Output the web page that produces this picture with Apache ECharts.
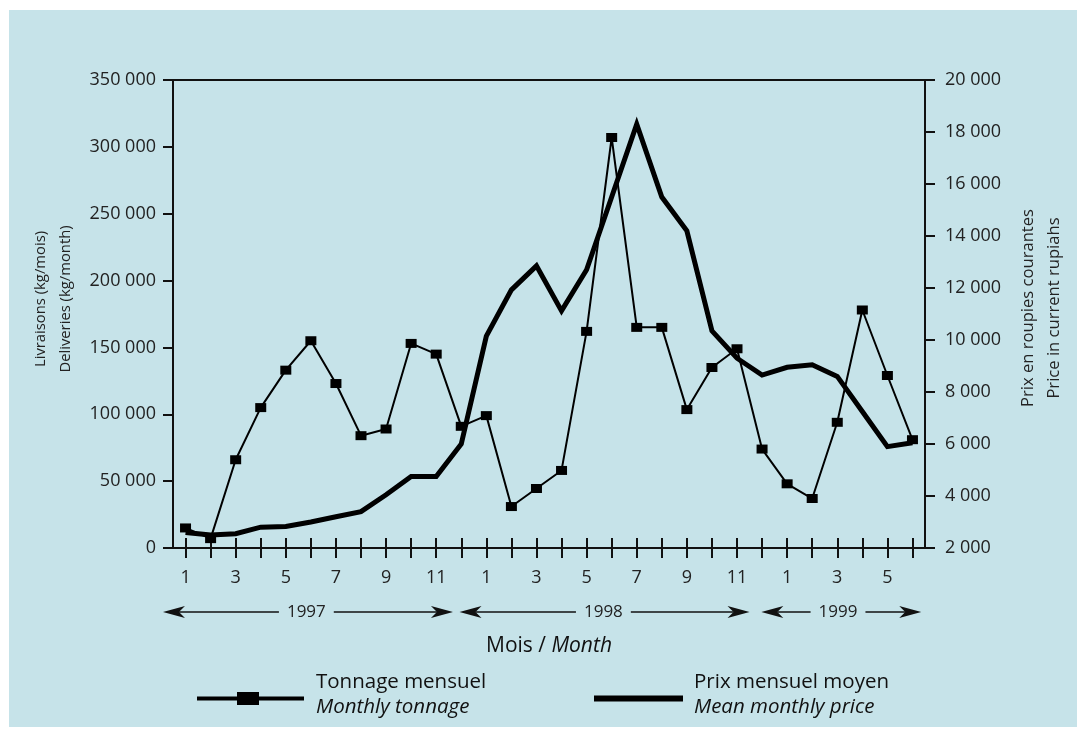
<!DOCTYPE html>
<html>
<head>
<meta charset="utf-8">
<title>Livraisons et prix mensuels 1997-1999</title>
<script src="https://cdn.jsdelivr.net/npm/echarts@6/dist/echarts.min.js"></script>
<style>
  html, body { margin: 0; padding: 0; background: #ffffff; }
  #panel { position: absolute; left: 9px; top: 10px; width: 1068px; height: 717px; background: #c6e3e9; }
  #chart { position: absolute; left: 0; top: 0; width: 1086px; height: 736px; }
</style>
</head>
<body>
<div id="panel"></div>
<div id="chart"></div>
<script>
// Months Jan 1997 .. Jun 1999
const months = ['1','2','3','4','5','6','7','8','9','10','11','12',
                '1','2','3','4','5','6','7','8','9','10','11','12',
                '1','2','3','4','5','6'];
const years = ['1997', '1998', '1999'];

// Monthly deliveries, kg/month (left axis)
const tonnage = [15000, 7000, 66000, 105000, 133000, 155000, 123000, 84000, 89000, 153000, 145000, 91000,
                 99000, 31000, 44500, 58000, 162000, 307000, 165000, 165000, 103500, 135000, 149000, 74000,
                 48000, 37000, 94000, 178000, 129000, 81000];

// Mean monthly price, current rupiahs (right axis)
const price = [2600, 2500, 2550, 2800, 2830, 3000, 3200, 3400, 4050, 4750, 4750, 6000,
               10150, 11930, 12850, 11120, 12700, 15500, 18300, 15500, 14200, 10350, 9300, 8650,
               8950, 9050, 8600, 7250, 5900, 6050];

// Axis tick values
const leftTicks = [0, 50000, 100000, 150000, 200000, 250000, 300000, 350000];
const rightTicks = [2000, 4000, 6000, 8000, 10000, 12000, 14000, 16000, 18000, 20000];

// Legend captions (French / English)
const captions = {
  'Tonnage mensuel': 'Monthly tonnage',
  'Prix mensuel moyen': 'Mean monthly price'
};

// Year arrows along the month axis, in month-index units: [start, end, label centre]
const yearSpan = [[-0.9, 10.67, 4.82], [10.93, 22.5, 16.67], [22.97, 29.35, 26.03]];

const FONT = '"Open Sans", "DejaVu Sans", sans-serif';
const INK = '#111111';
const TEXT = '#222222';
const fmt = v => String(v).replace(/\B(?=(\d{3})+(?!\d))/g, ' ');
const axisLine = { show: true, onZero: false, lineStyle: { color: INK, width: 2 } };

const chart = echarts.init(document.getElementById('chart'), null, { renderer: 'canvas' });

const legendRich = {
  a: { fontFamily: FONT, fontSize: 20.5, color: INK, lineHeight: 25 },
  b: { fontFamily: FONT, fontSize: 20.5, color: INK, lineHeight: 25, fontStyle: 'italic' }
};
const legendFormatter = name => '{a|' + name + '}\n{b|' + captions[name] + '}';

const option = {
  animation: false,
  backgroundColor: 'transparent',
  textStyle: { fontFamily: FONT },
  grid: { left: 173, right: 161, top: 80, bottom: 188 },
  legend: [
    {
      data: [{ name: 'Tonnage mensuel', icon: 'path://M0,4.5H40V0H62V4.5H107V8.5H62V13H40V8.5H0Z' }],
      left: 197, top: 672, padding: 0,
      itemWidth: 107, itemHeight: 13,
      selectedMode: false,
      formatter: legendFormatter,
      textStyle: { rich: legendRich, padding: [0, 0, 7, 7] }
    },
    {
      data: [{ name: 'Prix mensuel moyen', icon: 'rect' }],
      left: 594, top: 672, padding: 0,
      itemWidth: 89, itemHeight: 6,
      selectedMode: false,
      formatter: legendFormatter,
      textStyle: { rich: legendRich, padding: [0, 0, 7, 6] }
    }
  ],
  xAxis: [
    {
      type: 'category', data: months, position: 'bottom', boundaryGap: true,
      axisLine: axisLine,
      axisTick: { show: true, interval: 0, alignWithLabel: true, length: 10, lineStyle: { color: INK, width: 2 } },
      axisLabel: { interval: 1, margin: 21, fontSize: 18, color: TEXT, fontFamily: FONT },
      splitLine: { show: false },
      name: '{a|Mois / }{b|Month}', nameLocation: 'middle', nameGap: 88,
      nameTextStyle: {
        rich: {
          a: { fontFamily: FONT, fontSize: 21, color: INK },
          b: { fontFamily: FONT, fontSize: 21, color: INK, fontStyle: 'italic' }
        }
      }
    },
    {
      type: 'category', data: months, position: 'bottom', boundaryGap: true,
      axisLine: { show: false, onZero: false },
      axisTick: { show: true, inside: true, interval: 0, alignWithLabel: true, length: 10, lineStyle: { color: INK, width: 2 } },
      axisLabel: { show: false },
      splitLine: { show: false }
    },
    {
      type: 'category', data: months, position: 'top', boundaryGap: true,
      axisLine: axisLine,
      axisTick: { show: false },
      axisLabel: { show: false },
      splitLine: { show: false }
    }
  ],
  yAxis: [
    {
      type: 'value', position: 'left',
      min: leftTicks[0], max: leftTicks[leftTicks.length - 1], interval: leftTicks[1] - leftTicks[0],
      axisLine: axisLine,
      axisTick: { show: true, length: 10, lineStyle: { color: INK, width: 2 } },
      axisLabel: { margin: 17, fontSize: 18, color: TEXT, fontFamily: FONT, formatter: fmt },
      splitLine: { show: false },
      name: 'Livraisons (kg/mois)\nDeliveries (kg/month)',
      nameLocation: 'middle', nameRotate: 90, nameGap: 88,
      nameTextStyle: { fontFamily: FONT, fontSize: 14.8, lineHeight: 25, color: TEXT, padding: [0, 0, 0, 30] }
    },
    {
      type: 'value', position: 'right',
      min: rightTicks[0], max: rightTicks[rightTicks.length - 1], interval: rightTicks[1] - rightTicks[0],
      axisLine: axisLine,
      axisTick: { show: true, length: 10, lineStyle: { color: INK, width: 2 } },
      axisLabel: { margin: 20, fontSize: 18, color: TEXT, fontFamily: FONT, formatter: fmt },
      splitLine: { show: false },
      name: 'Prix en roupies courantes\nPrice in current rupiahs',
      nameLocation: 'middle', nameRotate: 90, nameGap: 90,
      nameTextStyle: { fontFamily: FONT, fontSize: 16.6, lineHeight: 26, color: TEXT, padding: [0, 0, 0, 12] }
    }
  ],
  series: [
    {
      name: 'Prix mensuel moyen', type: 'line', xAxisIndex: 0, yAxisIndex: 1,
      data: price, symbol: 'none', z: 2,
      itemStyle: { color: '#000' },
      lineStyle: { color: '#000', width: 5, join: 'miter' }
    },
    {
      name: 'Tonnage mensuel', type: 'line', xAxisIndex: 0, yAxisIndex: 0,
      data: tonnage, symbol: 'rect', symbolSize: [11, 9], z: 3,
      itemStyle: { color: '#000' },
      lineStyle: { color: '#000', width: 2 }
    }
  ]
};

chart.setOption(option);

// Year arrows under the month labels, placed through the month axis
function yearArrows() {
  const x0 = chart.convertToPixel({ xAxisIndex: 0 }, 0);
  const step = chart.convertToPixel({ xAxisIndex: 0 }, 1) - x0;
  const px = i => x0 + i * step;
  const Y = chart.convertToPixel({ yAxisIndex: 0 }, 0) + 64;
  const ctx = document.createElement('canvas').getContext('2d');
  const yearFont = 17;
  ctx.font = yearFont + 'px "Open Sans"';
  const els = [];
  const stroke = { stroke: INK, lineWidth: 1.6 };
  years.forEach((label, k) => {
    const a = px(yearSpan[k][0]);
    const b = px(yearSpan[k][1]);
    const c = px(yearSpan[k][2]);
    const half = ctx.measureText(label).width / 2;
    els.push({ type: 'line', shape: { x1: a + 16, y1: Y, x2: c - half - 8, y2: Y }, style: stroke, silent: true });
    els.push({ type: 'line', shape: { x1: c + half + 8, y1: Y, x2: b - 16, y2: Y }, style: stroke, silent: true });
    els.push({ type: 'polygon', shape: { points: [[a, Y], [a + 22, Y - 6], [a + 16, Y], [a + 22, Y + 6]] }, style: { fill: INK }, silent: true });
    els.push({ type: 'polygon', shape: { points: [[b, Y], [b - 22, Y - 6], [b - 16, Y], [b - 22, Y + 6]] }, style: { fill: INK }, silent: true });
    els.push({ type: 'text', x: c, y: Y, style: { text: label, fill: TEXT, font: yearFont + 'px ' + FONT, align: 'center', verticalAlign: 'middle' }, silent: true });
  });
  chart.setOption({ graphic: els });
}
yearArrows();
</script>
</body>
</html>
